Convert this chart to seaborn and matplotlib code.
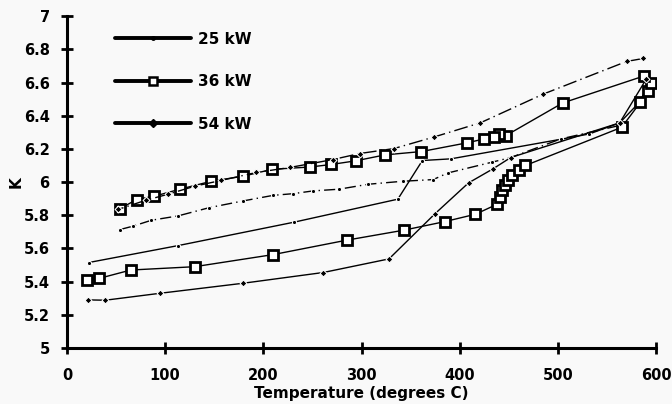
import matplotlib
matplotlib.use("Agg")
import matplotlib.pyplot as plt
import seaborn as sns
from matplotlib.lines import Line2D

# 25 kW: heating run (from room temp) and cooling run
t25_heat = [22, 113, 231, 337, 362, 391, 503, 532, 563, 583, 593]
k25_heat = [5.515, 5.617, 5.758, 5.897, 6.13, 6.14, 6.258, 6.29, 6.357, 6.48, 6.594]
t25_cool = [54, 67, 86, 113, 145, 179, 210, 230, 251, 277, 307, 342, 373, 388, 433, 452, 503, 562]
k25_cool = [5.714, 5.734, 5.77, 5.796, 5.846, 5.886, 5.92, 5.93, 5.947, 5.957, 5.987, 6.005, 6.015,
            6.055, 6.12, 6.148, 6.26, 6.34]

# 36 kW
t36_heat = [20, 33, 65, 130, 210, 285, 343, 385, 416, 438, 441, 443, 446, 449, 453, 460, 467, 565, 584, 592, 595]
k36_heat = [5.41, 5.42, 5.47, 5.49, 5.563, 5.65, 5.71, 5.762, 5.806, 5.866, 5.91, 5.95, 5.98, 6.01,
            6.04, 6.07, 6.10, 6.33, 6.48, 6.55, 6.60]
t36_cool = [588, 505, 447, 440, 435, 425, 407, 361, 324, 294, 269, 248, 209, 179, 147, 115, 89, 71, 54]
k36_cool = [6.64, 6.477, 6.28, 6.29, 6.27, 6.26, 6.236, 6.184, 6.164, 6.128, 6.106, 6.091, 6.077,
            6.035, 6.005, 5.957, 5.915, 5.895, 5.84]

# 54 kW
t54_heat = [21, 39, 95, 179, 261, 328, 375, 409, 434, 452, 563, 590]
k54_heat = [5.29, 5.288, 5.33, 5.39, 5.455, 5.537, 5.81, 5.995, 6.08, 6.148, 6.357, 6.62]
t54_cool = [587, 570, 485, 421, 374, 333, 298, 271, 227, 193, 157, 130, 103, 80, 52]
k54_cool = [6.745, 6.727, 6.53, 6.357, 6.272, 6.202, 6.172, 6.136, 6.088, 6.058, 6.01, 5.975,
            5.927, 5.89, 5.835]

labels = ["25 kW", "36 kW", "54 kW"]

sns.set_style("ticks")
plt.rcParams["font.family"] = ["DejaVu Sans"]
plt.rcParams["text.color"] = "black"
plt.rcParams["axes.labelcolor"] = "black"
plt.rcParams["xtick.color"] = "black"
plt.rcParams["ytick.color"] = "black"
plt.rcParams["axes.edgecolor"] = "black"

fig = plt.figure(figsize=(6.72, 4.04), dpi=100)
fig.patch.set_facecolor("#f9f9f9")
ax = fig.add_axes([0.0997, 0.1386, 0.8765, 0.8214])
ax.set_facecolor("#f9f9f9")

dot = dict(marker="o", markersize=3, color="black", linewidth=1.0)
sq = dict(marker="s", markersize=7, markerfacecolor="white", markeredgecolor="black",
          markeredgewidth=2, color="black", linewidth=1.0)
dia = dict(marker="D", markersize=3.5, color="black", linewidth=1.0)

sns.lineplot(x=t25_heat, y=k25_heat, sort=False, estimator=None, ax=ax, **dot)
sns.lineplot(x=t25_cool, y=k25_cool, sort=False, estimator=None, ax=ax,
             linestyle=(0, (8, 3, 1, 3)), **dot)
sns.lineplot(x=t36_heat, y=k36_heat, sort=False, estimator=None, ax=ax, **sq)
sns.lineplot(x=t36_cool, y=k36_cool, sort=False, estimator=None, ax=ax, **sq)
sns.lineplot(x=t54_heat, y=k54_heat, sort=False, estimator=None, ax=ax, **dia)
sns.lineplot(x=t54_cool, y=k54_cool, sort=False, estimator=None, ax=ax,
             linestyle=(0, (10, 3, 1, 3)), **dia)

ax.set_xlim(0, 600)
ax.set_ylim(5, 7)
ax.set_xticks(range(0, 601, 100))
ax.set_yticks([5 + 0.2 * i for i in range(11)])
ax.set_yticklabels(["5", "5.2", "5.4", "5.6", "5.8", "6", "6.2", "6.4", "6.6", "6.8", "7"])
ax.tick_params(direction="inout", length=9, width=2, labelsize=10.5, pad=8)
ax.tick_params(axis="x", pad=10)
for lab in ax.get_xticklabels() + ax.get_yticklabels():
    lab.set_fontweight("bold")
sns.despine(ax=ax)
for s in ["left", "bottom"]:
    ax.spines[s].set_linewidth(2.2)

ax.set_xlabel("Temperature (degrees C)", fontsize=11, fontweight="bold", labelpad=2)
ax.set_ylabel("K", fontsize=11, fontweight="bold", labelpad=0)

handles = [
    Line2D([], [], color="black", linewidth=2.8, marker="o", markersize=2.5),
    Line2D([], [], color="black", linewidth=2.8, marker="s", markersize=6,
           markerfacecolor="white", markeredgewidth=1.8),
    Line2D([], [], color="black", linewidth=2.8, marker="D", markersize=4),
]
leg = ax.legend(handles, labels, loc="upper left", bbox_to_anchor=(0.058, 0.995),
                frameon=False, handlelength=5.0, handletextpad=0.45, labelspacing=1.8,
                prop={"size": 11, "weight": "bold"})

fig.savefig("out.png", dpi=100, facecolor=fig.get_facecolor())
